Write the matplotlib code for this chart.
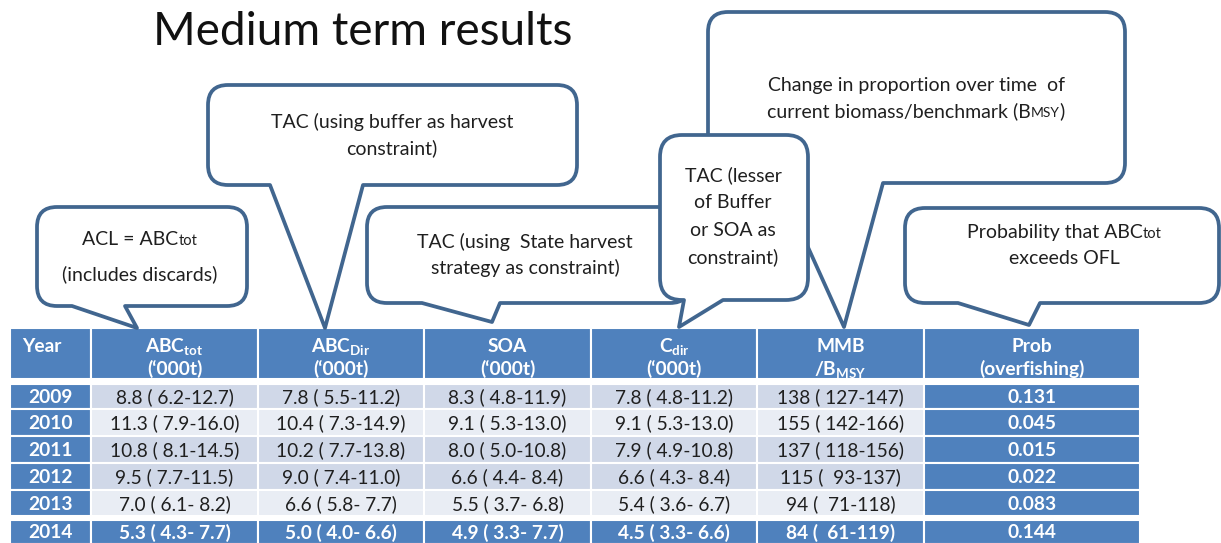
import matplotlib.pyplot as plt
from matplotlib.path import Path
from matplotlib.patches import PathPatch, Rectangle

plt.rcParams['font.family'] = ['Lato', 'DejaVu Sans']
plt.rcParams['mathtext.fontset'] = 'custom'
plt.rcParams['mathtext.rm'] = 'Lato'
plt.rcParams['mathtext.bf'] = 'Lato:bold'
plt.rcParams['mathtext.it'] = 'Lato:italic'

# table data
years = [2009, 2010, 2011, 2012, 2013, 2014]
abc_tot = [(8.8, 6.2, 12.7), (11.3, 7.9, 16.0), (10.8, 8.1, 14.5),
           (9.5, 7.7, 11.5), (7.0, 6.1, 8.2), (5.3, 4.3, 7.7)]
abc_dir = [(7.8, 5.5, 11.2), (10.4, 7.3, 14.9), (10.2, 7.7, 13.8),
           (9.0, 7.4, 11.0), (6.6, 5.8, 7.7), (5.0, 4.0, 6.6)]
soa = [(8.3, 4.8, 11.9), (9.1, 5.3, 13.0), (8.0, 5.0, 10.8),
       (6.6, 4.4, 8.4), (5.5, 3.7, 6.8), (4.9, 3.3, 7.7)]
c_dir = [(7.8, 4.8, 11.2), (9.1, 5.3, 13.0), (7.9, 4.9, 10.8),
         (6.6, 4.3, 8.4), (5.4, 3.6, 6.7), (4.5, 3.3, 6.6)]
mmb_bmsy = [(138, 127, 147), (155, 142, 166), (137, 118, 156),
            (115, 93, 137), (94, 71, 118), (84, 61, 119)]
prob_of = [0.131, 0.045, 0.015, 0.022, 0.083, 0.144]

head_top_lines = [r"ABC$_{\mathbf{tot}}$", r"ABC$_{\mathbf{Dir}}$", "SOA",
                  r"C$_{\mathbf{dir}}$", "MMB", "Prob"]
head_bot_lines = ["(\u2018000t)", "(\u2018000t)", "(\u2018000t)", "(\u2018000t)",
                  r"/B$_{\mathbf{MSY}}$", "(overfishing)"]

BLUE = '#4F81BD'
DARK = '#D0D8E8'
LIGHT = '#E9EDF4'
EDGE = '#41668F'
TXT = '#1f1f1f'
FS = 14

fig = plt.figure(figsize=(12.21, 5.43), dpi=100)
ax = fig.add_axes([0, 0, 1, 1])
ax.set_xlim(0, 1221)
ax.set_ylim(543, 0)
ax.axis('off')

ax.text(153, 45, "Medium term results", fontsize=33, va='baseline', ha='left', color='#111111')


def fmt1(t):
    return "%.1f (%4.1f-%4.1f)" % t


def fmt0(t):
    return "%d (%4d-%d)" % t


def rich(x, y, pieces, z=10):
    # several text pieces side by side on one baseline, centred on x
    r = fig.canvas.get_renderer()
    objs = []
    for s, fs in pieces:
        objs.append(ax.text(0, y, s, fontsize=fs, va='baseline', ha='left', color=TXT, zorder=z))
    widths = [o.get_window_extent(r).width for o in objs]
    cur = x - sum(widths) / 2
    for o, w in zip(objs, widths):
        o.set_x(cur)
        cur += w


def note(x, y, s, z):
    ax.text(x, y, s, fontsize=FS, ha='center', va='baseline', color=TXT, zorder=z)


def callout(x0, y0, x1, y1, tail, r=20, z=2):
    bl, tx, ty, br = tail
    verts = [(x0 + r, y0), (x1 - r, y0), (x1, y0), (x1, y0 + r), (x1, y1 - r), (x1, y1), (x1 - r, y1),
             (br, y1), (tx, ty), (bl, y1), (x0 + r, y1), (x0, y1), (x0, y1 - r), (x0, y0 + r), (x0, y0),
             (x0 + r, y0), (x0 + r, y0)]
    codes = [Path.MOVETO, Path.LINETO, Path.CURVE3, Path.CURVE3, Path.LINETO, Path.CURVE3, Path.CURVE3,
             Path.LINETO, Path.LINETO, Path.LINETO, Path.LINETO, Path.CURVE3, Path.CURVE3, Path.LINETO,
             Path.CURVE3, Path.CURVE3, Path.CLOSEPOLY]
    ax.add_patch(PathPatch(Path(verts, codes), facecolor='white', edgecolor=EDGE, lw=2.7,
                           joinstyle='round', zorder=z))


# callouts
callout(37, 207, 247, 306, (72, 137, 328, 125), z=2)
rich(140, 245, [("ACL = ABC", FS), ("tot", 10.5)], z=3)
note(140, 280, "(includes discards)", 3)

callout(208, 85, 577, 185, (270, 325, 328, 363), z=2)
note(392, 128, "TAC (using buffer as harvest", 3)
note(392, 154, "constraint)", 3)

callout(708, 12, 1125, 183, (779, 844, 327, 883), z=4)
note(916, 91, "Change in proportion over time  of", 5)
rich(916, 117, [("current biomass/benchmark (B", FS), ("MSY", 10), (")", FS)], z=5)

callout(367, 207, 690, 303, (422, 492, 322, 500), z=6)
note(525, 248, "TAC (using  State harvest", 7)
note(525, 274, "strategy as constraint)", 7)

callout(660, 135, 808, 300, (684, 679, 327, 723), r=22, z=8)
for i, s in enumerate(["TAC (lesser", "of Buffer", "or SOA as", "constraint)"]):
    note(733, 181 + i * 27.5, s, 9)

callout(905, 208, 1219, 303, (958, 1029, 325, 1040), z=2)
rich(1064, 238, [("Probability that ABC", FS), ("tot", 10.5)], z=3)
note(1064, 264, "exceeds OFL", 3)

# table
col_edges = [10, 91, 258, 424, 591, 757, 924, 1140]
row_edges = [(384, 409), (409, 436), (436, 463), (463, 490), (490, 516), (520, 544)]
head_top, head_bot = 328, 379
TFS = 13.8

for c in range(7):
    x0, x1 = col_edges[c], col_edges[c + 1]
    rect = Rectangle((x0, head_top), x1 - x0, head_bot - head_top, facecolor=BLUE, edgecolor='white', lw=1.5, zorder=1)
    ax.add_patch(rect)
    if c == 0:
        t = ax.text(22, 352, "Year", fontsize=TFS, fontweight='bold', color='white', ha='left', va='baseline', zorder=2)
        t.set_clip_path(rect)
    else:
        xc = (x0 + x1) / 2
        t1 = ax.text(xc, 352, head_top_lines[c - 1], fontsize=TFS, fontweight='bold', color='white',
                     ha='center', va='baseline', zorder=2)
        t2 = ax.text(xc, 375, head_bot_lines[c - 1], fontsize=TFS, fontweight='bold', color='white',
                     ha='center', va='baseline', zorder=2)
        t1.set_clip_path(rect)
        t2.set_clip_path(rect)

shade = [DARK, LIGHT, DARK, DARK, LIGHT, BLUE]
for i, yr in enumerate(years):
    y0, y1 = row_edges[i]
    yc = (y0 + y1) / 2 + 1
    last = i == len(years) - 1
    cells = [str(yr), fmt1(abc_tot[i]), fmt1(abc_dir[i]), fmt1(soa[i]), fmt1(c_dir[i]),
             fmt0(mmb_bmsy[i]), "%.3f" % prob_of[i]]
    for c in range(7):
        x0, x1 = col_edges[c], col_edges[c + 1]
        blue_cell = c == 0 or c == 6 or last
        fc = BLUE if blue_cell else shade[i]
        ax.add_patch(Rectangle((x0, y0), x1 - x0, y1 - y0, facecolor=fc, edgecolor='white', lw=1.5, zorder=1))
        ax.text((x0 + x1) / 2, yc, cells[c], fontsize=TFS, ha='center', va='center',
                color='white' if blue_cell else TXT, fontweight='bold' if blue_cell else 'normal', zorder=2)

fig.savefig('out.png', dpi=100)
